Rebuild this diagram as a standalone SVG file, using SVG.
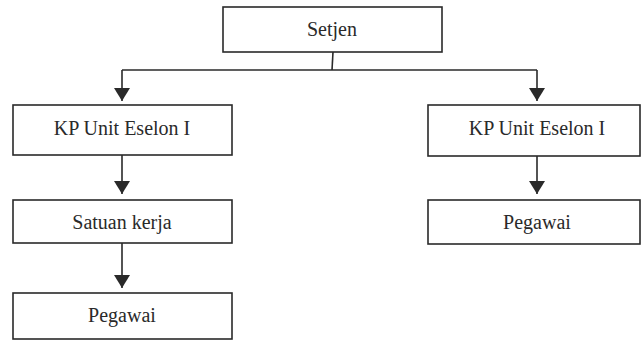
<svg xmlns="http://www.w3.org/2000/svg" width="641" height="341" viewBox="0 0 641 341">
<defs>
<style>
.box{fill:#fff;stroke:#2a2a2a;stroke-width:1.6}
.lbl{font-family:"Liberation Serif","Times New Roman",serif;font-size:20px;fill:#2a2a2a;text-anchor:middle}
.con{stroke:#2a2a2a;stroke-width:1.6;fill:none}
</style>
<marker id="arr" viewBox="0 0 13 16" refX="13" refY="8" markerWidth="13" markerHeight="16" markerUnits="userSpaceOnUse" orient="auto">
<path d="M0,0 L13,8 L0,16 Z" fill="#2a2a2a"/>
</marker>
</defs>
<rect width="641" height="341" fill="#fff"/>
<g id="connectors">
<path class="con" d="M333,52 L332,70"/>
<path class="con" d="M122,70 L537,70"/>
<path class="con" d="M122,70 L122,101" marker-end="url(#arr)"/>
<path class="con" d="M537,70 L537,101" marker-end="url(#arr)"/>
<path class="con" d="M122,155 L122,194" marker-end="url(#arr)"/>
<path class="con" d="M537,156 L537,194" marker-end="url(#arr)"/>
<path class="con" d="M122,243 L122,288" marker-end="url(#arr)"/>
</g>
<g id="setjen"><rect class="box" x="223" y="7" width="219" height="45"/><text class="lbl" x="332" y="36">Setjen</text></g>
<g id="kp-left"><rect class="box" x="13" y="105" width="219" height="50"/><text class="lbl" x="122" y="135">KP Unit Eselon I</text></g>
<g id="satker"><rect class="box" x="13" y="200" width="219" height="43"/><text class="lbl" x="122" y="229">Satuan kerja</text></g>
<g id="pegawai-left"><rect class="box" x="13" y="293" width="219" height="46"/><text class="lbl" x="122" y="322">Pegawai</text></g>
<g id="kp-right"><rect class="box" x="428" y="105" width="212" height="51"/><text class="lbl" x="537" y="135">KP Unit Eselon I</text></g>
<g id="pegawai-right"><rect class="box" x="428" y="200" width="212" height="44"/><text class="lbl" x="537" y="229">Pegawai</text></g>
</svg>
